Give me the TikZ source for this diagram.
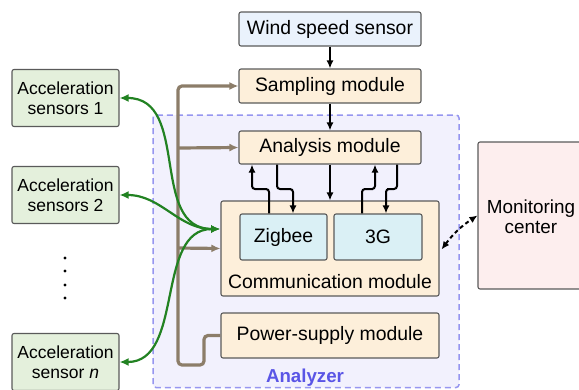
\documentclass[tikz,border=0pt]{standalone}
\usepackage{fontspec}
\setmainfont{Liberation Sans}
\usetikzlibrary{arrows.meta,calc}
\definecolor{windfill}{RGB}{234,242,252}
\definecolor{modfill}{RGB}{253,239,218}
\definecolor{cyanfill}{RGB}{218,240,245}
\definecolor{sensfill}{RGB}{228,240,220}
\definecolor{pinkfill}{RGB}{253,238,238}
\definecolor{anfill}{RGB}{242,241,253}
\definecolor{andraw}{RGB}{150,150,240}
\definecolor{antext}{RGB}{90,85,230}
\definecolor{busc}{RGB}{140,125,105}
\definecolor{grn}{RGB}{34,130,34}
\definecolor{bord}{RGB}{90,90,90}
\tikzset{
  box/.style={draw=bord, line width=1.1pt, rounded corners=2pt, inner sep=0pt, align=center,
    font=\fontsize{19.4}{22}\selectfont},
  sensbox/.style={box, fill=sensfill, minimum width=107pt, minimum height=57pt,
    font=\fontsize{17.5}{20}\selectfont},
  modbox/.style={box, fill=modfill},
  blk/.style={line width=2pt, black, -{Latex[length=8pt,width=7pt]}, rounded corners=3pt},
  bus/.style={line width=3.2pt, busc, rounded corners=4pt},
  busarr/.style={bus, -{Latex[length=9pt,width=8pt]}},
  grnarr/.style={line width=2.2pt, grn, {Latex[length=9pt,width=8pt]}-{Latex[length=9pt,width=8pt]}},
}
\begin{document}
\begin{tikzpicture}[x=1pt,y=-1pt]
\useasboundingbox (0,0) rectangle (579,389);
% analyzer frame
\draw[fill=anfill, draw=andraw, line width=1.5pt, dash pattern=on 6pt off 4pt, rounded corners=3pt]
  (153,115) rectangle (459,387.5);
\node[font=\bfseries\fontsize{18.7}{20}\selectfont, text=antext] (anlabel) at (305,378) {Analyzer};
% nodes
\node[box, fill=windfill, minimum width=182pt, minimum height=34pt] (wind) at (330,29) {Wind speed sensor};
\node[modbox, minimum width=182pt, minimum height=34pt] (samp) at (330,86) {Sampling module};
\node[modbox, minimum width=182pt, minimum height=33pt] (anal) at (330,147.5) {Analysis module};
\node[modbox, minimum width=218pt, minimum height=95pt] (comm) at (330,248.5) {};
\node[font=\fontsize{19.4}{22}\selectfont] (commtext) at (330,282) {Communication module};
\node[box, fill=cyanfill, minimum width=87pt, minimum height=46pt] (zig) at (283.5,237) {Zigbee};
\node[box, fill=cyanfill, minimum width=88pt, minimum height=46pt] (g3) at (378,237) {3G};
\node[modbox, minimum width=218pt, minimum height=45pt] (power) at (330,335.5) {Power-supply module};
\node[box, fill=pinkfill, minimum width=108pt, minimum height=147pt, text depth=0pt] (mon) at (532,215.5) {};
\node[font=\fontsize{18.9}{20}\selectfont, align=center] (montext) at (531,217) {Monitoring\\center};
\node[sensbox] (s1) at (65.5,98) {Acceleration\\sensors 1};
\node[sensbox] (s2) at (65.5,195) {Acceleration\\sensors 2};
\node[sensbox] (sn) at (65.5,362) {Acceleration\\sensor \textit{n}};
\foreach \y [count=\i] in {258,271,285,298} \fill (65,\y) circle (1.7pt) coordinate (dot\i);
% black arrows
\draw[blk] (wind.south) -- (samp.north);
\draw[blk] (samp.south) -- (anal.north);
\draw[blk] (anal.south) -- (comm.north);
\draw[blk] ([xshift=-14.5pt]zig.north) |- (260,189) -| ([xshift=-78pt]anal.south);
\draw[blk] ([xshift=-53pt]anal.south) |- (285,189) -| ([xshift=9.5pt]zig.north);
\draw[blk] ([xshift=-16pt]g3.north) |- (370,189) -| ([xshift=45pt]anal.south);
\draw[blk] ([xshift=67pt]anal.south) |- (390,189) -| ([xshift=8pt]g3.north);
% bus
\coordinate (bB) at (178,365);
\draw[busarr] (power.west) -| (204,365) -- (bB) |- (samp.west);
\draw[busarr] (178,148) -- (anal.west);
\draw[busarr] (178,248) -- (comm.west);
% green
\coordinate (gin) at (220,229);
\draw[grnarr] (s1.east) to[out=0, in=180, looseness=1.1] (gin);
\draw[grnarr] (s2.east) to[out=0, in=180] (gin);
\draw[grnarr] (sn.east) to[out=0, in=180] (gin);
% dashed
\draw[line width=2pt, dash pattern=on 4pt off 3pt, {Latex[length=8pt,width=7pt]}-{Latex[length=8pt,width=7pt]}]
  ([xshift=2pt,yshift=-1pt]comm.east) to[bend left=10] (mon.west);
\end{tikzpicture}
\end{document}
